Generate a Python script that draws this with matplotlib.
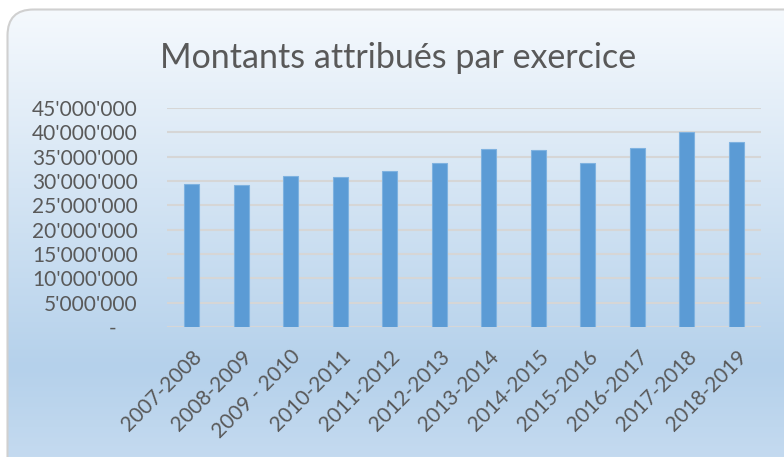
import numpy as np
import matplotlib
matplotlib.use("Agg")
import matplotlib.pyplot as plt
from matplotlib.patches import FancyBboxPatch
from matplotlib.colors import LinearSegmentedColormap
from matplotlib.ticker import FuncFormatter, MultipleLocator

plt.rcParams['font.family'] = ['Lato', 'DejaVu Sans']

# données
exercices = ['2007-2008', '2008-2009', '2009 - 2010', '2010-2011', '2011-2012', '2012-2013',
             '2013-2014', '2014-2015', '2015-2016', '2016-2017', '2017-2018', '2018-2019']
montants = [29_350_000, 29_200_000, 31_000_000, 30_850_000, 32_100_000, 33_600_000,
            36_550_000, 36_400_000, 33_600_000, 36_800_000, 40_050_000, 38_100_000]

titre = 'Montants attribués par exercice'
couleur_barre = '#5B9BD5'
couleur_texte = '#595959'

W, H = 784, 457
fig = plt.figure(figsize=(W / 100, H / 100), dpi=100)

# fond dégradé avec bord arrondi (style Excel)
bg = fig.add_axes([0, 0, 1, 1], zorder=-10)
bg.set_xlim(0, W)
bg.set_ylim(H, 0)
bg.axis('off')
cmap = LinearSegmentedColormap.from_list(
    'fond', [(0, '#F5F9FD'), (0.75, '#B5D1EB'), (1, '#C9DDF1')])
grad = np.linspace(0, 1, 256).reshape(-1, 1)
cadre = FancyBboxPatch((7.5, 9.5), W + 20, H + 20,
                       boxstyle='round,pad=0,rounding_size=26',
                       facecolor='none', edgecolor='#D0D0D0', lw=1.5, zorder=2)
bg.add_patch(cadre)
im = bg.imshow(grad, cmap=cmap, extent=[7, W + 30, H + 30, 9], aspect='auto', zorder=1)
im.set_clip_path(cadre)

# zone du graphique
ax = fig.add_axes([167 / W, 1 - 327 / H, (761 - 167) / W, (327 - 108) / H])
ax.patch.set_alpha(0)
x = np.arange(len(exercices))
ax.bar(x, montants, width=0.31, color=couleur_barre, edgecolor='#7FB2E0', lw=0.8, zorder=3)

ax.set_ylim(0, 45_000_000)
ax.set_xlim(-0.5, len(exercices) - 0.5)
ax.yaxis.set_major_locator(MultipleLocator(5_000_000))


def fmt(v, pos):
    if v == 0:
        return '-    '
    return f'{int(v):,}'.replace(',', "'")


ax.yaxis.set_major_formatter(FuncFormatter(fmt))
ax.grid(axis='y', color='#D6D6D6', lw=1.5, zorder=0)
for s in ax.spines.values():
    s.set_visible(False)
ax.tick_params(axis='both', length=0, colors=couleur_texte, labelsize=15)
ax.tick_params(axis='y', pad=21)
ax.set_xticks(x)
ax.set_xticklabels(exercices, rotation=45, ha='right', va='top', rotation_mode='anchor')
ax.tick_params(axis='x', pad=14)

fig.text(398 / W, 1 - 58 / H, titre, ha='center', va='center', fontsize=24.5, color=couleur_texte)

fig.savefig('out.png', dpi=100)
